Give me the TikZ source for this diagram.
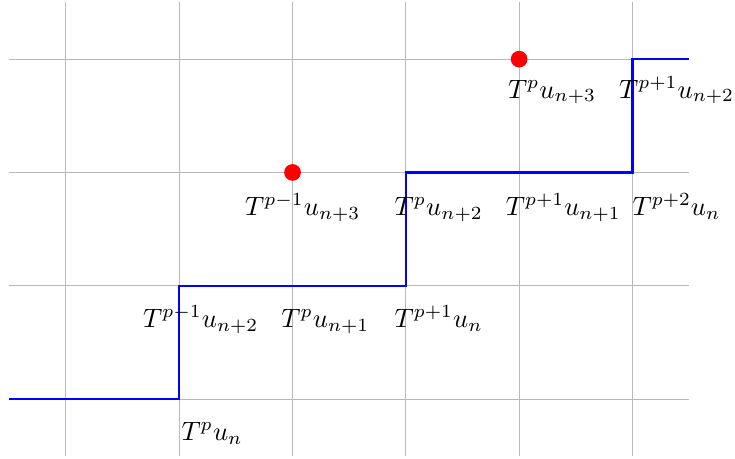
\documentclass[tikz,border=0pt]{standalone}
\usetikzlibrary{positioning}
\tikzset{
  gridline/.style={gray!55, line width=0.35pt},
  stair/.style={blue, thick},
  dot/.style={circle, fill=red, inner sep=0pt, minimum size=6.3pt},
  lbl/.style={anchor=base, inner sep=0pt}
}
\begin{document}
\begin{tikzpicture}[x=1.5cm, y=1.5cm]
\useasboundingbox (0.418,-0.521) rectangle (6.905,3.522);

\draw[gridline, step=1.5cm] (0.5,-0.5) grid (6.5,3.5);

\draw[stair] (0.5,0) -- (2,0) -- (2,1) -- (4,1) -- (4,2) -- (6,2) -- (6,3) -- (6.5,3);

\node[dot] (dotA) at (3,2) {};
\node[dot] (dotB) at (5,3) {};

% row 0
\node[lbl] (r0a) at (2.29,-0.362) {$T^{p}u_{n}$};
% row 1
\node[lbl] (r1a) at (2.19,0.635) {$T^{p-1}u_{n+2}$};
\node[lbl] (r1b) at (3.29,0.635) {$T^{p}u_{n+1}$};
\node[lbl] (r1c) at (4.29,0.635) {$T^{p+1}u_{n}$};
% row 2
\node[lbl] (r2a) at (3.09,1.624) {$T^{p-1}u_{n+3}$};
\node[lbl] (r2b) at (4.29,1.624) {$T^{p}u_{n+2}$};
\node[lbl] (r2c) at (5.39,1.624) {$T^{p+1}u_{n+1}$};
\node[lbl] (r2d) at (6.39,1.624) {$T^{p+2}u_{n}$};
% row 3
\node[lbl] (r3a) at (5.29,2.657) {$T^{p}u_{n+3}$};
\node[lbl] (r3b) at (6.39,2.657) {$T^{p+1}u_{n+2}$};
\end{tikzpicture}
\end{document}
